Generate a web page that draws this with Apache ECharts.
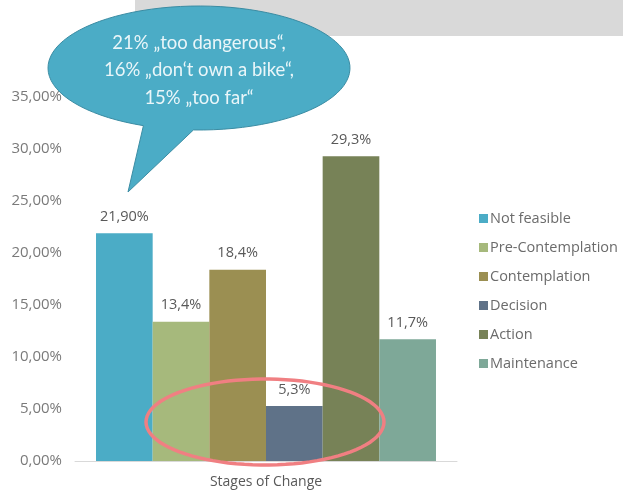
<!DOCTYPE html>
<html>
<head>
<meta charset="UTF-8">
<title></title>
<script src="https://cdn.jsdelivr.net/npm/echarts@6/dist/echarts.min.js"></script>
</head>
<body style="margin:0">
<div id="main" style="width:623px;height:490px;"></div>
<script type="text/javascript">
var stages = ['Not feasible', 'Pre-Contemplation', 'Contemplation', 'Decision', 'Action', 'Maintenance'];
var values = [21.9, 13.4, 18.4, 5.3, 29.3, 11.7];
var labels = ['21,90%', '13,4%', '18,4%', '5,3%', '29,3%', '11,7%'];
var colors = ['#4BACC6', '#A6B97C', '#9B8F52', '#5F7288', '#778257', '#7EA898'];
var category = ['Stages of Change'];
var bubbleLines = ['21% \u201etoo dangerous\u201c,', '16% \u201edon\u2018t own a bike\u201c,', '15% \u201etoo far\u201c'];

var myChart = echarts.init(document.getElementById('main'));
var font = '"Open Sans", sans-serif';

// ellipse outline as polygon points
function ellipsePts(cx, cy, rx, ry, a0, a1) {
	var pts = [];
	for (var i = 0; i <= 90; i++) {
		var a = a0 + (a1 - a0) * i / 90;
		pts.push([cx + rx * Math.cos(a), cy + ry * Math.sin(a)]);
	}
	return pts;
}

// bubble: ellipse with a tail pointing down-left
var bubble = ellipsePts(199, 68, 151, 62, Math.PI * 0.62, Math.PI * 0.62 + Math.PI * 2 - 0.34);
bubble.push([128, 192]);

var series = stages.map(function(name, i) {
	var d = [];
	d[0] = values[i];
	return {
		name: name,
		type: 'bar',
		barGap: 0,
		barCategoryGap: '11%',
		data: d,
		itemStyle: { color: colors[i] },
		label: {
			show: true,
			position: 'top',
			distance: 9,
			color: '#595959',
			fontSize: 14.5,
			fontFamily: font,
			formatter: function() { return labels[i]; }
		}
	};
});

var option = {
	animation: false,
	textStyle: { fontFamily: font },
	grid: { left: 75, right: 166, top: 97, bottom: 29, containLabel: false },
	legend: {
		orient: 'vertical',
		left: 474,
		top: 206,
		itemWidth: 9,
		itemHeight: 9,
		itemGap: 14,
		icon: 'rect',
		textStyle: { color: '#6B6B6B', fontSize: 14.5, padding: [0, 0, 0, -3], fontFamily: font },
		data: stages
	},
	xAxis: {
		type: 'category',
		data: category,
		axisLine: { lineStyle: { color: '#D9D9D9' } },
		axisTick: { show: false },
		axisLabel: { color: '#595959', fontSize: 14, margin: 14, fontFamily: font }
	},
	yAxis: {
		type: 'value',
		min: 0,
		max: 35,
		interval: 5,
		splitLine: { show: false },
		axisLine: { show: false },
		axisTick: { show: false },
		axisLabel: {
			color: '#7A7A7A',
			fontSize: 15,
			margin: 13,
			fontFamily: font,
			formatter: function(v) { return v.toFixed(2).replace('.', ',') + '%'; }
		}
	},
	series: series,
	graphic: [
		{
			type: 'rect',
			shape: { x: 135, y: 0, width: 488, height: 36 },
			style: { fill: '#D9D9D9' },
			z: 10
		},
		{
			type: 'polygon',
			shape: { points: bubble },
			style: { fill: '#4BACC6', stroke: '#3B8CA3', lineWidth: 1 },
			z: 11
		},
		{
			type: 'text',
			z: 12,
			style: {
				text: bubbleLines.join('\n'),
				x: 199,
				y: 29,
				align: 'center',
				fill: '#EAF6F9',
				fontSize: 18.5,
				lineHeight: 27.5,
				fontFamily: 'Lato, sans-serif'
			}
		},
		{
			type: 'polygon',
			shape: { points: ellipsePts(265, 422, 119, 43, 0, Math.PI * 2) },
			style: { fill: 'none', stroke: '#F07F82', lineWidth: 3.5 },
			z: 12
		}
	]
};

myChart.setOption(option);
</script>
</body>
</html>
